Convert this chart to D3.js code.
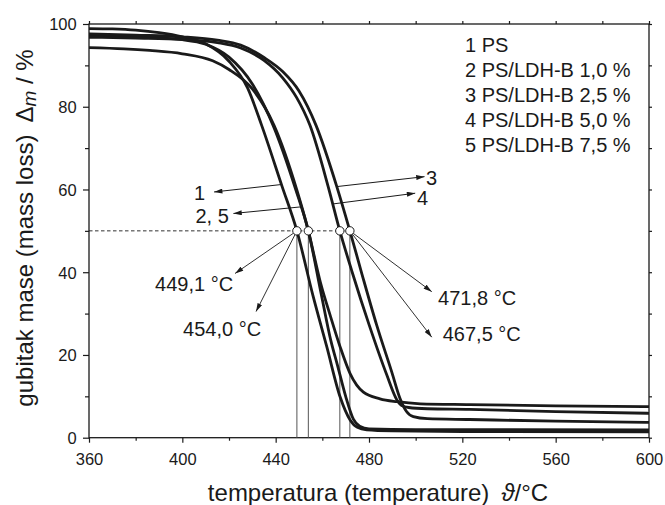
<!DOCTYPE html>
<html><head><meta charset="utf-8">
<script src="https://cdn.jsdelivr.net/npm/d3@7"></script>
<style>
body{margin:0;background:#fff}
svg{display:block}
text{font-family:"Liberation Sans",Arial,"DejaVu Sans",sans-serif;fill:#1a1a1a}
</style>
</head><body>
<svg id="chart" width="665" height="505"></svg>
<script>
// Thermogravimetric curves: [temperature °C, remaining mass %]
const seriesPS = [[360,98.9],[370,98.8],[380,98.5],[390,97.9],[400,96.9],[410,95.2],[420,91.0],[428,84.5],[434,75.5],[442.6,61.0],[449.1,50.0],[456.1,34.1],[461.9,22.0],[467.6,9.9],[471.9,4.3],[475,2.5],[479,1.9],[490,1.65],[520,1.5],[600,1.4]];
const seriesLDH10 = [[360,97.1],[380,96.9],[400,96.2],[410,95.1],[420,92.0],[430,85.5],[438.9,75.5],[448.6,60.0],[454.0,50.0],[459.6,34.5],[463.6,23.6],[466.5,17.5],[470,10.0],[473.3,4.5],[476,2.8],[480,2.15],[500,1.95],[600,1.9]];
const seriesLDH25 = [[360,97.6],[380,97.3],[400,96.9],[415,96.1],[425,94.9],[435,91.9],[443,88.5],[450,83.8],[457.3,75.5],[466.2,60.7],[471.8,50.0],[477,39.5],[483.3,27.2],[489.8,15.8],[493.3,9.5],[496,6.4],[499,5.1],[505,4.6],[523,4.4],[560,4.0],[600,3.7]];
const seriesLDH50 = [[360,96.8],[380,96.6],[400,96.3],[415,95.5],[425,94.2],[435,91.2],[443,87.0],[449,82.2],[454.7,75.5],[462.5,60.7],[467.5,50.0],[472.8,40.0],[480.1,27.2],[487.6,15.2],[491.9,9.2],[494,7.8],[497,7.3],[505,7.0],[523,6.85],[560,6.3],[600,5.9]];
const seriesLDH75 = [[360,94.3],[375,94.0],[386,93.6],[400,92.8],[413,91.1],[420,89.0],[430,84.3],[439.3,75.5],[449.0,60.0],[454.0,50.0],[459.2,37.5],[463.4,29.5],[467.6,22.0],[471.9,15.5],[477.6,11.0],[484.7,9.4],[491.9,8.7],[502,8.2],[523,8.0],[560,7.7],[600,7.5]];

const legendLines = ["1 PS","2 PS/LDH-B 1,0 %","3 PS/LDH-B 2,5 %","4 PS/LDH-B 5,0 %","5 PS/LDH-B 7,5 %"];
const curveTags = ["1","2, 5","3","4"];
const halfLossLevel = 50;
const halfLossTemps = [449.1, 454.0, 467.5, 471.8];
const halfLossLabels = ["449,1 °C","454,0 °C","467,5 °C","471,8 °C"];
const xTicks = [360,400,440,480,520,560,600];
const xMinor = [380,420,460,500,540,580];
const yTicks = [0,20,40,60,80,100];
const yMinor = [10,30,50,70,90];

const svg = d3.select("#chart");
const x = d3.scaleLinear().domain([360,600]).range([89,649]);
const y = d3.scaleLinear().domain([0,100]).range([437.7,24]);
const ink = "#1a1a1a";

// arrowhead
svg.append("defs").append("marker")
  .attr("id","head").attr("markerUnits","userSpaceOnUse")
  .attr("viewBox","0 0 10 6").attr("refX",10).attr("refY",3)
  .attr("markerWidth",9).attr("markerHeight",5).attr("orient","auto")
  .append("path").attr("d","M0,0L10,3L0,6Z").attr("fill",ink);

// axes with outward ticks on all four sides
function styleAxis(g){ g.select(".domain").remove(); g.selectAll("line").attr("stroke",ink).attr("stroke-width",1.2); }
const fs = "16.5px";
svg.append("g").attr("transform",`translate(0,${y(0)})`)
  .call(d3.axisBottom(x).tickValues(xTicks).tickSize(5).tickSizeOuter(0).tickFormat(d3.format("d")))
  .call(styleAxis)
  .call(g=>g.selectAll("text").attr("y",27.3).attr("dy",null).style("font-size",fs).attr("fill",ink));
svg.append("g").attr("transform",`translate(0,${y(0)})`)
  .call(d3.axisBottom(x).tickValues(xMinor).tickSize(3).tickSizeOuter(0).tickFormat(""))
  .call(styleAxis);
svg.append("g").attr("transform",`translate(${x(360)},0)`)
  .call(d3.axisLeft(y).tickValues(yTicks).tickSize(6).tickSizeOuter(0).tickPadding(6.3).tickFormat(d3.format("d")))
  .call(styleAxis)
  .call(g=>g.selectAll("text").style("font-size",fs).attr("fill",ink).attr("dy","0.36em"));
svg.append("g").attr("transform",`translate(${x(360)},0)`)
  .call(d3.axisLeft(y).tickValues(yMinor).tickSize(4).tickSizeOuter(0).tickFormat(""))
  .call(styleAxis);
svg.append("g").attr("transform",`translate(0,${y(100)})`)
  .call(d3.axisTop(x).tickValues(xTicks.concat(xMinor)).tickSize(3).tickSizeOuter(0).tickFormat(""))
  .call(styleAxis);
svg.append("g").attr("transform",`translate(${x(600)},0)`)
  .call(d3.axisRight(y).tickValues(yTicks.concat(yMinor)).tickSize(3).tickSizeOuter(0).tickFormat(""))
  .call(styleAxis);

// plot frame
svg.append("rect").attr("x",x(360)).attr("y",y(100))
  .attr("width",x(600)-x(360)).attr("height",y(0)-y(100))
  .attr("fill","none").attr("stroke",ink).attr("stroke-width",1.3);

// 50 % reference: dashed level line and drop lines to the axis
svg.append("line").attr("x1",x(360)).attr("x2",x(d3.max(halfLossTemps)))
  .attr("y1",y(halfLossLevel)).attr("y2",y(halfLossLevel))
  .attr("stroke",ink).attr("stroke-width",0.9).attr("stroke-dasharray","3.5,2.5");
svg.selectAll(".drop").data(halfLossTemps).join("line")
  .attr("x1",d=>x(d)).attr("x2",d=>x(d)).attr("y1",y(halfLossLevel)).attr("y2",y(0))
  .attr("stroke","#555").attr("stroke-width",1);

// curves
const line = d3.line().x(d=>x(d[0])).y(d=>y(d[1])).curve(d3.curveMonotoneX);
[seriesPS, seriesLDH10, seriesLDH25, seriesLDH50, seriesLDH75].forEach(s=>{
  svg.append("path").attr("d",line(s)).attr("fill","none")
    .attr("stroke",ink).attr("stroke-width",2.8).attr("stroke-linejoin","round");
});

// legend
svg.selectAll(".leg").data(legendLines).join("text")
  .attr("x",465).attr("y",(d,i)=>51.7+i*25).style("font-size","20px").text(d=>d);

// curve tags with pointers [from on curve, tip, text position]
const tagLayout = [
  {from:[442.5,61.2], tip:[413.6,59.4], at:[405.0,57.5]},
  {from:[450.9,55.8], tip:[421.9,54.2], at:[405.6,52.0]},
  {from:[466.2,60.7], tip:[503.8,63.1], at:[504.4,61.1]},
  {from:[464.5,56.5], tip:[499.8,59.1], at:[500.6,56.2]}
];
curveTags.forEach((t,i)=>{
  const L = tagLayout[i];
  svg.append("line").attr("x1",x(L.from[0])).attr("y1",y(L.from[1]))
    .attr("x2",x(L.tip[0])).attr("y2",y(L.tip[1]))
    .attr("stroke",ink).attr("stroke-width",1).attr("marker-end","url(#head)");
  svg.append("text").attr("x",x(L.at[0])).attr("y",y(L.at[1])).style("font-size","20px").text(t);
});

// half-loss callouts: source marker index, arrow tip, text position
const calloutLayout = [
  {src:0, tip:[422.6,39.7], at:[388.3,35.5]},
  {src:0, tip:[431.6,30.5], at:[400.3,24.6]},
  {src:3, tip:[506.9,24.3], at:[511.6,23.45]},
  {src:3, tip:[506.9,35.3], at:[509.6,32.1]}
];
const r = 4.2;
halfLossLabels.forEach((lab,i)=>{
  const L = calloutLayout[i];
  const cx = x(halfLossTemps[L.src]), cy = y(halfLossLevel);
  const tx = x(L.tip[0]), ty = y(L.tip[1]);
  const len = Math.hypot(tx-cx, ty-cy);
  svg.append("line").attr("x1",cx+(tx-cx)/len*r).attr("y1",cy+(ty-cy)/len*r)
    .attr("x2",tx).attr("y2",ty)
    .attr("stroke",ink).attr("stroke-width",0.9).attr("marker-end","url(#head)");
  svg.append("text").attr("x",x(L.at[0])).attr("y",y(L.at[1])).style("font-size","20px").text(lab);
});

// 50 % markers
svg.selectAll(".mk").data(halfLossTemps).join("circle")
  .attr("cx",d=>x(d)).attr("cy",y(halfLossLevel)).attr("r",r)
  .attr("fill","#fff").attr("stroke",ink).attr("stroke-width",1);

// axis titles
const xt = svg.append("text").attr("x",378).attr("y",501).attr("text-anchor","middle").style("font-size","24px");
xt.append("tspan").text("temperatura (temperature)\u2002");
xt.append("tspan").style("font-style","italic").text("\u03D1");
xt.append("tspan").text("/°C");

const yt = svg.append("text").attr("transform","translate(33,228) rotate(-90)")
  .attr("text-anchor","middle").style("font-size","24px");
yt.append("tspan").text("gubitak mase (mass loss)\u2002\u0394");
yt.append("tspan").style("font-style","italic").style("font-size","19px").attr("dy",3).text("m");
yt.append("tspan").attr("dy",-3).text(" / %");
</script>
</body></html>
